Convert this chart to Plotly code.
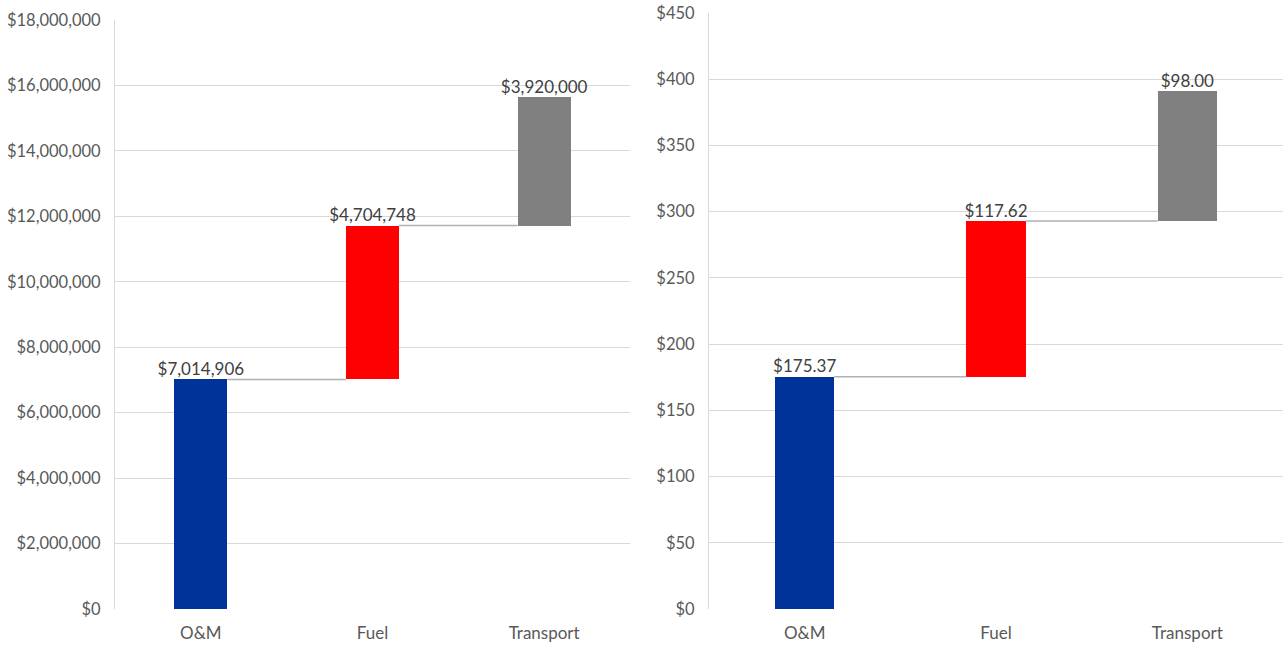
import plotly.graph_objects as go

categories = ["O&M", "Fuel", "Transport"]
left_values = [7014906, 4704748, 3920000]
right_values = [175.37, 117.62, 98.00]
left_labels = ["$7,014,906", "$4,704,748", "$3,920,000"]
right_labels = ["$175.37", "$117.62", "$98.00"]
left_ticks = [0, 2000000, 4000000, 6000000, 8000000, 10000000, 12000000, 14000000, 16000000, 18000000]
right_ticks = [0, 50, 100, 150, 200, 250, 300, 350, 400, 450]
colors = ["#003399", "#FF0000", "#808080"]

BAR_W = 0.31
FONT = "Lato, Carlito, Calibri, sans-serif"
W, H = 1287, 646

fig = go.Figure()


def add_waterfall(values, labels, xa, ya):
    xs = list(range(len(values)))
    bases, tops = [], []
    run = 0
    for v in values:
        bases.append(run)
        run += v
        tops.append(run)
    fig.add_trace(go.Bar(
        x=xs, y=values, base=bases, width=BAR_W,
        marker=dict(color=colors, line=dict(width=0)),
        xaxis=xa, yaxis=ya, showlegend=False, hoverinfo="skip"))
    # connectors
    for i in range(len(values) - 1):
        fig.add_trace(go.Scatter(
            x=[xs[i] + BAR_W / 2, xs[i + 1] - BAR_W / 2], y=[tops[i], tops[i]],
            mode="lines", line=dict(color="#b0b0b0", width=1.5),
            xaxis=xa, yaxis=ya, showlegend=False, hoverinfo="skip"))
    fig.add_trace(go.Scatter(
        x=xs, y=tops, mode="text", text=labels, textposition="top center",
        textfont=dict(family=FONT, size=17, color="#404040"),
        xaxis=xa, yaxis=ya, showlegend=False, hoverinfo="skip", cliponaxis=False))


add_waterfall(left_values, left_labels, "x", "y")
add_waterfall(right_values, right_labels, "x2", "y2")

axis_x = dict(tickmode="array", tickvals=[0, 1, 2], ticktext=categories,
              range=[-0.5, 2.5], showgrid=False, zeroline=False,
              showline=False, ticks="", ticklabelstandoff=12, automargin=False,
              tickfont=dict(family=FONT, size=17, color="#595959"))
axis_y = dict(showgrid=True, gridcolor="#d9d9d9", gridwidth=1.2,
              zeroline=False, showline=True, linecolor="#d9d9d9", linewidth=1.2,
              ticks="", ticklabelstandoff=10, automargin=False,
              ticklabeloverflow="allow",
              tickfont=dict(family=FONT, size=16.5, color="#595959"))


def xd(a, b):
    return [a / W, b / W]


def yd(top, bottom):
    return [(H - bottom) / H, (H - top) / H]


fig.update_layout(
    width=W, height=H,
    margin=dict(l=0, r=0, t=0, b=0, autoexpand=False),
    paper_bgcolor="white", plot_bgcolor="white",
    bargap=0,
    xaxis=dict(axis_x, domain=xd(115, 630), anchor="y"),
    yaxis=dict(axis_y, domain=yd(20, 609), anchor="x",
               range=[0, 18000000], tickvals=left_ticks,
               ticktext=["${:,}".format(t) for t in left_ticks]),
    xaxis2=dict(axis_x, domain=xd(709, 1283), anchor="y2"),
    yaxis2=dict(axis_y, domain=yd(13, 609), anchor="x2",
                range=[0, 450], tickvals=right_ticks,
                ticktext=["${:,}".format(t) for t in right_ticks]),
)

fig.write_html("out.html", config={"displayModeBar": False},
               post_script="document.body.style.margin='0px';document.body.style.overflow='hidden';")
